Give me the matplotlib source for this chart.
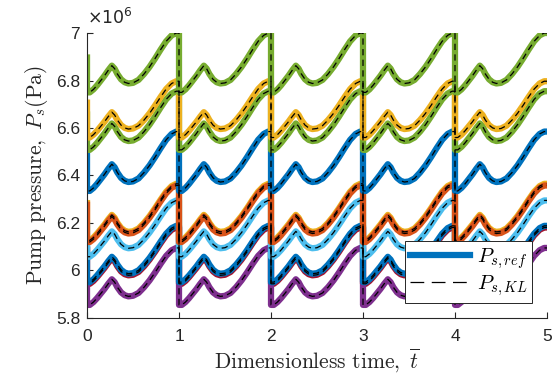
import numpy as np
import matplotlib
matplotlib.use("Agg")
import matplotlib.pyplot as plt
from matplotlib.lines import Line2D
from matplotlib.ticker import FuncFormatter, MultipleLocator

plt.rcParams['font.family'] = ['Liberation Sans', 'DejaVu Sans']
plt.rcParams['mathtext.fontset'] = 'cm'

# one-period waveform (0 = minimum after the jump, 1 = maximum before it)
period_t = [0.00, 0.03, 0.07, 0.11, 0.15, 0.19, 0.23, 0.27, 0.30, 0.33, 0.37, 0.41,
            0.45, 0.50, 0.56, 0.62, 0.68, 0.74, 0.80, 0.86, 0.92, 0.97, 1.00]
period_shape = [0.00, 0.00, 0.05, 0.12, 0.20, 0.28, 0.37, 0.45, 0.40, 0.31, 0.22, 0.17,
                0.15, 0.16, 0.21, 0.31, 0.43, 0.57, 0.72, 0.86, 0.96, 1.00, 1.00]
n_periods = 5

# curves in drawing order (values in units of 1e6 Pa)
curve_colors = ['#EDB120', '#A2142F', '#7E2F8E', '#0072BD', '#4DBEEE',
                '#D95319', '#0072BD', '#77AC30', '#EDB120', '#77AC30']
curve_init = [6.297, 6.100, 5.970, 6.107, 6.205, 6.290, 6.507, 6.670, 6.720, 6.910]
curve_min = [6.127, 5.944, 5.855, 5.951, 6.058, 6.120, 6.335, 6.508, 6.560, 6.750]
curve_max = [6.365, 6.181, 6.095, 6.188, 6.295, 6.358, 6.585, 6.755, 6.797, 7.000]

fig = plt.figure(figsize=(5.56, 3.76), dpi=100)
ax = fig.add_axes([0.1565, 0.1543, 0.8273, 0.7579])

axis_col = '#262626'
series = []
for c, p0, lo, hi in zip(curve_colors, curve_init, curve_min, curve_max):
    tt = [0.0]
    yy = [p0]
    for k in range(n_periods):
        for tk, sk in zip(period_t, period_shape):
            tt.append(k + tk)
            yy.append((lo + (hi - lo) * sk) * 1e6)
    yy[0] = p0 * 1e6
    series.append((c, np.array(tt), np.array(yy)))

for c, tt, yy in series:
    ax.plot(tt, yy, color=c, lw=4.5, solid_joinstyle='round', solid_capstyle='butt')
for c, tt, yy in series:
    ax.plot(tt, yy, color='black', lw=0.9, dashes=(5.0, 3.5))

ax.set_xlim(0, 5)
ax.set_ylim(5.8e6, 7.0e6)
ax.xaxis.set_major_locator(MultipleLocator(1))
ax.yaxis.set_major_locator(MultipleLocator(0.2e6))
ax.yaxis.set_major_formatter(FuncFormatter(lambda v, p: '%g' % round(v / 1e6, 3)))
ax.xaxis.set_major_formatter(FuncFormatter(lambda v, p: '%g' % v))

for s in ['top', 'right']:
    ax.spines[s].set_visible(False)
for s in ['left', 'bottom']:
    ax.spines[s].set_color(axis_col)
    ax.spines[s].set_linewidth(0.8)
ax.tick_params(direction='in', length=4, width=0.8, colors=axis_col, labelsize=12.5,
               top=False, right=False)
ax.tick_params(axis='x', pad=8)
ax.tick_params(axis='y', pad=5)

ax.text(0.0, 1.02, r'$\times10^{6}$', transform=ax.transAxes, fontsize=12.5,
        color=axis_col, ha='left', va='bottom', family='Liberation Sans',
        math_fontfamily='dejavusans')

ax.set_xlabel(r'$\mathrm{Dimensionless\ time,}\ \overline{t}$', fontsize=15.5, labelpad=2,
              color=axis_col)
ax.set_ylabel(r'$\mathrm{Pump\ pressure,}\ P_s(\mathrm{Pa})$', fontsize=15.5, labelpad=4,
              color=axis_col)

h1 = Line2D([], [], color='#0072BD', lw=4.5)
h2 = Line2D([], [], color='black', lw=0.9, dashes=(11, 6))
leg = ax.legend([h1, h2], [r'$P_{s,ref}$', r'$P_{s,KL}$'], loc='lower right',
                bbox_to_anchor=(0.967, 0.053), borderaxespad=0, fontsize=15,
                handlelength=2.9, handletextpad=0.3, labelspacing=0.12,
                borderpad=0.22, fancybox=False, framealpha=1, edgecolor=axis_col)
leg.get_frame().set_linewidth(0.7)

fig.savefig('out.png', dpi=100)
